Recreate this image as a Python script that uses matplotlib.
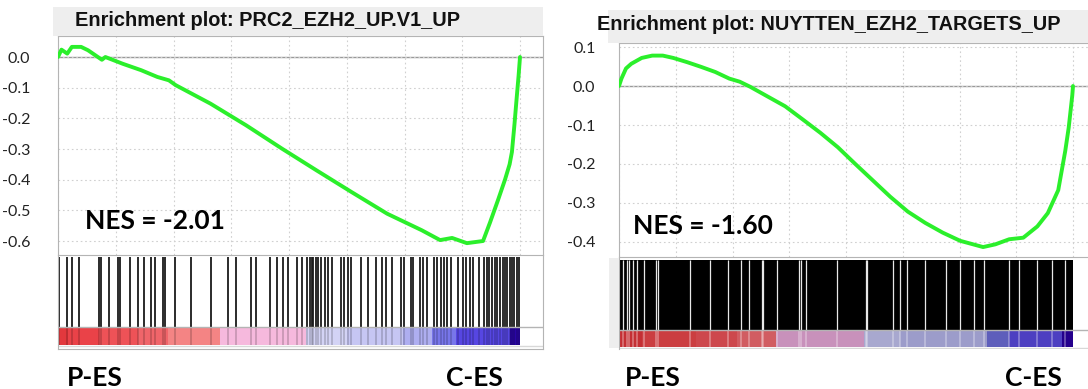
import matplotlib
matplotlib.use('Agg')
import matplotlib.pyplot as plt
from matplotlib.patches import Rectangle
import numpy as np

W, H = 1088, 389
n_genes = 20000

######################################### data
# left panel : PRC2_EZH2_UP.V1_UP
left_title = 'Enrichment plot: PRC2_EZH2_UP.V1_UP'
left_nes = 'NES = -2.01'
left_rank = [0, 150, 400, 600, 1000, 1300, 1900, 2050, 2800, 3600, 4300, 4800, 5100,
             6600, 8150, 9700, 11200, 12700, 14250, 15750, 16540, 17060, 17700, 18400,
             18700, 19050, 19350, 19550, 19650, 19760, 19860, 19940, 20000]
left_es = [0.0, 0.024, 0.011, 0.033, 0.033, 0.022, -0.009, 0.0, -0.022, -0.043, -0.065,
           -0.076, -0.092, -0.152, -0.223, -0.299, -0.370, -0.440, -0.511, -0.565, -0.597,
           -0.590, -0.607, -0.600, -0.540, -0.466, -0.400, -0.350, -0.310, -0.220, -0.130,
           -0.060, 0.0]
left_hits = [45, 390, 610, 910, 1790, 1880, 2210, 2590, 2690, 3110, 3480, 3710, 4010, 4190,
             4530, 4650, 5080, 5750, 6620, 7370, 7710, 8340, 8560, 9190, 9460, 9760, 9960,
             10360, 10580, 10800, 10900, 10980, 11050, 11150, 11250, 11400, 11550, 11700,
             11850, 12230, 12380, 12560, 12680, 13120, 13420, 13770, 14020, 14220, 14470,
             14840, 14990, 15290, 15370, 15670, 15790, 15960, 16260, 16400, 16560, 16710,
             16860, 17010, 17310, 17530, 17680, 17830, 17980, 18210, 18430, 18550, 18650,
             18800, 18900, 19000, 19120, 19250, 19350, 19450, 19550, 19650, 19750, 19850, 19950]
left_bar_edges = [0, 420, 1760, 3480, 4760, 7000, 10740, 12520, 14920, 16200, 17220, 19560, 20000]
left_bar_colors = ['#e2383d', '#ea4248', '#ee5257', '#f0656a', '#f48484', '#f6b9dd',
                   '#d3d3f5', '#c6c6f3', '#aeaef0', '#7876ea', '#5646e2', '#2a06a6']
left_yticks = [0.0, -0.1, -0.2, -0.3, -0.4, -0.5, -0.6]

# right panel : NUYTTEN_EZH2_TARGETS_UP
right_title = 'Enrichment plot: NUYTTEN_EZH2_TARGETS_UP'
right_nes = 'NES = -1.60'
right_rank = [0, 108, 308, 540, 1000, 1465, 1930, 2390, 3010, 3620, 4240, 4860, 5320, 5780,
              6550, 7320, 8100, 8870, 9640, 10410, 11180, 11950, 12720, 13490, 14260, 15030,
              16040, 16580, 17190, 17810, 18430, 18890, 19350, 19660, 19810, 19970, 20000]
right_es = [0.0, 0.019, 0.045, 0.057, 0.072, 0.078, 0.078, 0.072, 0.061, 0.049, 0.036, 0.019,
            0.011, -0.002, -0.027, -0.052, -0.086, -0.120, -0.157, -0.200, -0.242, -0.284,
            -0.322, -0.351, -0.376, -0.397, -0.413, -0.406, -0.393, -0.389, -0.360, -0.326,
            -0.267, -0.166, -0.107, -0.023, 0.0]
# hits are almost everywhere -> keep the few gaps between them
right_gaps = [180, 340, 460, 620, 800, 1120, 1620, 1700, 3120, 4020, 4820, 5360, 5740, 6300,
              6360, 6980, 7920, 8000, 8220, 9620, 10860, 10920, 12080, 12400, 12700, 13480,
              14400, 15020, 15640, 16100, 17180, 17600, 18420, 19080, 19640]
right_bar_edges = [0, 1000, 3400, 5200, 6900, 10780, 12400, 16200, 17200, 19500, 20000]
right_bar_colors = ['#e0363c', '#e8474b', '#ea5358', '#ee6a70', '#e4a6d6', '#c0c0ec',
                    '#b2b2e6', '#6c6cd6', '#5848dc', '#2a00a0']
right_yticks = [0.1, 0.0, -0.1, -0.2, -0.3, -0.4]

group_labels = ['P-ES', 'C-ES']

es_green = '#2bef2b'
frame_gray = '#b4b4b4'
strip_gray = '#eeeeee'


fig = plt.figure(figsize=(W / 100, H / 100), dpi=100)


def px_axes(x0, y0, x1, y1):
    return fig.add_axes([x0 / W, 1 - y1 / H, (x1 - x0) / W, (y1 - y0) / H])


def px_rect(x0, y0, x1, y1, color):
    fig.patches.append(Rectangle((x0 / W, 1 - y1 / H), (x1 - x0) / W, (y1 - y0) / H,
                                 transform=fig.transFigure, color=color, lw=0, zorder=0))


def px_text(x, y, s, **kw):
    fig.text(x / W, 1 - y / H, s, **kw)


def es_panel(box, xmax, ylim, yticks, rank, es, pad):
    ax = px_axes(*box)
    ax.set_xlim(0, xmax)
    ax.set_ylim(*ylim)
    ax.set_xticks(np.arange(0, xmax, 2500))
    ax.set_yticks(yticks)
    ax.set_yticklabels(['%.1f' % t for t in yticks], family='Lato', fontsize=11.5,
                       color='#222222')
    ax.tick_params(axis='x', length=0, labelbottom=False)
    ax.tick_params(axis='y', length=0, pad=pad)
    ax.grid(True, ls=(0, (1.5, 2.5)), color='#d0d0d0', lw=0.8)
    ax.axhline(0, color='#999999', lw=1.0, zorder=1)
    ax.plot(rank, es, color=es_green, lw=2.8, solid_capstyle='round', zorder=3)
    for s in ax.spines.values():
        s.set_color(frame_gray)
    return ax


def hit_panel(box, xmax):
    ax = px_axes(*box)
    ax.set_xlim(0, xmax)
    ax.set_ylim(0, 1)
    ax.set_xticks([])
    ax.set_yticks([])
    for s in ax.spines.values():
        s.set_color(frame_gray)
    return ax


######################################### left panel
px_rect(53, 7, 543, 36, strip_gray)
px_text(75, 21, left_title, family='Liberation Sans', weight='bold', fontsize=14.4,
        va='center', ha='left', color='#111111')

xmax_l = n_genes * (543 - 58) / (520 - 58)
axl = es_panel((58, 36, 543, 255), xmax_l, (-0.6456, 0.0685), left_yticks,
               left_rank, left_es, 20)
axl.spines['bottom'].set_visible(False)
px_text(85, 221, left_nes, family='Lato', weight='bold', fontsize=19, va='center',
        ha='left')

hl = hit_panel((58, 255, 543, 349), xmax_l)
xt = hl.get_xaxis_transform()
hl.vlines(left_hits, 0.234, 0.979, transform=xt, color='#1a1a1a', lw=1.3)
for e0, e1, c in zip(left_bar_edges[:-1], left_bar_edges[1:], left_bar_colors):
    hl.axvspan(e0, e1, ymin=0.043, ymax=0.234, color=c, lw=0)
# hits show through the colour bar as darker stripes
hl.vlines(left_hits, 0.043, 0.234, transform=xt, color='black', lw=1.3, alpha=0.18)
hl.axhline(0.234, color=frame_gray, lw=1)
hl.axhline(0.033, color='#d8d8d8', lw=1)

px_text(67, 378, group_labels[0], family='Lato', weight='bold', fontsize=19, va='center')
px_text(446, 378, group_labels[1], family='Lato', weight='bold', fontsize=19, va='center')

######################################### right panel
px_rect(608, 10, 1088, 43, strip_gray)
px_rect(609, 258, 619, 348, strip_gray)
px_text(597, 24, right_title, family='Liberation Sans', weight='bold', fontsize=14.3,
        va='center', ha='left', color='#111111')

xmax_r = n_genes * (1088 - 619) / (1073 - 619)
axr = es_panel((619, 43, 1088, 257), xmax_r, (-0.4385, 0.1103), right_yticks,
               right_rank, right_es, 17)
axr.spines['right'].set_visible(False)
axr.spines['bottom'].set_visible(False)
px_text(633, 226, right_nes, family='Lato', weight='bold', fontsize=19, va='center',
        ha='left')

hr = hit_panel((619, 257, 1088, 349), xmax_r)
hr.spines['right'].set_visible(False)
hr.spines['bottom'].set_visible(False)
xt = hr.get_xaxis_transform()
hr.axvspan(0, n_genes, ymin=0.207, ymax=0.967, color='black', lw=0)
hr.vlines(right_gaps, 0.207, 0.967, transform=xt, color='#e8e8e8', lw=0.9)
for e0, e1, c in zip(right_bar_edges[:-1], right_bar_edges[1:], right_bar_colors):
    hr.axvspan(e0, e1, ymin=0.022, ymax=0.207, color=c, lw=0)
# dense hits darken the colour bar, gaps stay lighter
hr.axvspan(0, n_genes, ymin=0.022, ymax=0.207, color='black', lw=0, alpha=0.12)
hr.vlines(right_gaps, 0.022, 0.207, transform=xt, color='white', lw=1.2, alpha=0.35)
hr.axhline(0.207, color=frame_gray, lw=1)
hr.axhline(0.012, color='#d8d8d8', lw=1)

px_text(625, 378, group_labels[0], family='Lato', weight='bold', fontsize=19, va='center')
px_text(1005, 378, group_labels[1], family='Lato', weight='bold', fontsize=19, va='center')

fig.savefig('out.png', dpi=100)
